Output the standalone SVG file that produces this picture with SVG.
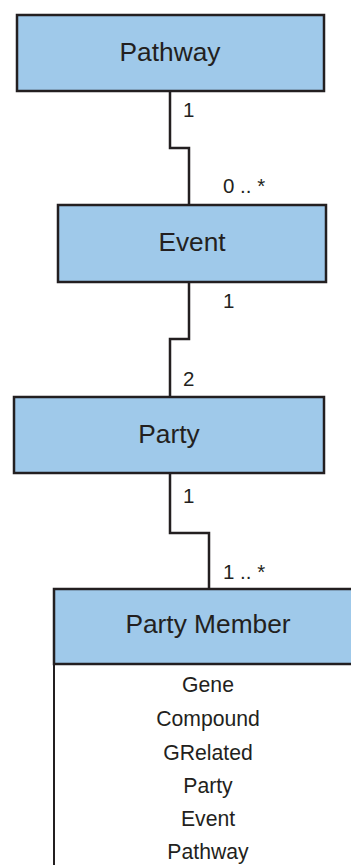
<svg xmlns="http://www.w3.org/2000/svg" width="351" height="865" viewBox="0 0 351 865">
  <style>
    .box { fill: #9fc9ea; stroke: #231f20; stroke-width: 2.5; }
    .body { fill: #ffffff; stroke: #231f20; stroke-width: 2; }
    .title { font-family: "Liberation Sans", Arial, sans-serif; font-size: 26.3px; fill: #231f20; text-anchor: middle; }
    .item { font-family: "Liberation Sans", Arial, sans-serif; font-size: 21.2px; fill: #231f20; text-anchor: middle; }
    .mult { font-family: "Liberation Sans", Arial, sans-serif; font-size: 20.5px; fill: #231f20; }
    .wire { fill: none; stroke: #231f20; stroke-width: 2.5; }
  </style>

  <!-- associations between classes -->
  <g id="connectors">
    <path class="wire" d="M170,91 V148 H189 V205"/>
    <path class="wire" d="M189,282 V339 H170 V397"/>
    <path class="wire" d="M170,473 V533 H209 V589"/>
    <text class="mult" x="183" y="117">1</text>
    <text class="mult" x="223" y="193">0 .. *</text>
    <text class="mult" x="223" y="308">1</text>
    <text class="mult" x="183" y="386">2</text>
    <text class="mult" x="183" y="503">1</text>
    <text class="mult" x="223" y="579">1 .. *</text>
  </g>

  <g id="pathway">
    <rect class="box" x="17" y="15" width="307" height="76"/>
    <text class="title" x="170" y="61">Pathway</text>
  </g>

  <g id="event">
    <rect class="box" x="58" y="205" width="268" height="77"/>
    <text class="title" x="192" y="251">Event</text>
  </g>

  <g id="party">
    <rect class="box" x="14" y="397" width="310" height="76"/>
    <text class="title" x="169" y="443">Party</text>
  </g>

  <g id="party-member">
    <rect class="body" x="54" y="664" width="310" height="220"/>
    <rect class="box" x="54" y="589" width="310" height="75"/>
    <text class="title" x="208" y="633">Party Member</text>
    <text class="item" x="208" y="692">Gene</text>
    <text class="item" x="208" y="726">Compound</text>
    <text class="item" x="208" y="760">GRelated</text>
    <text class="item" x="208" y="793">Party</text>
    <text class="item" x="208" y="826">Event</text>
    <text class="item" x="208" y="859">Pathway</text>
  </g>
</svg>
